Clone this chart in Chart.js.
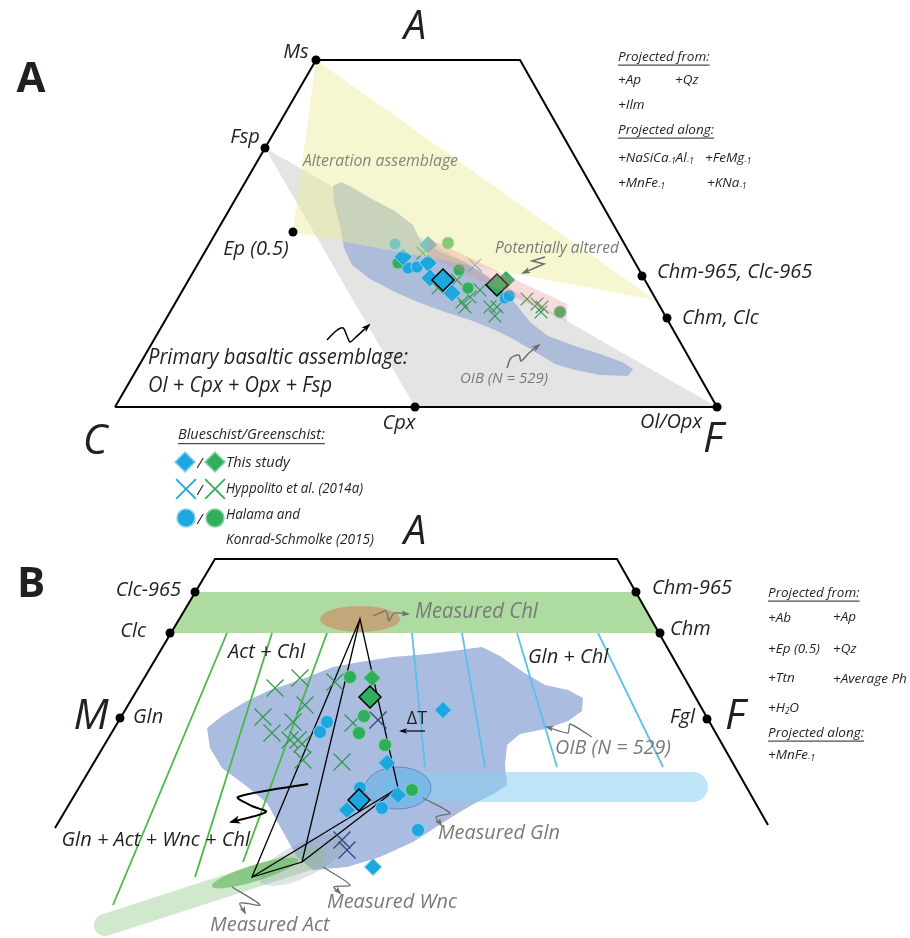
<!DOCTYPE html>
<html>
<head>
<meta charset="utf-8">
<script src="https://cdn.jsdelivr.net/npm/chart.js@4.4.1/dist/chart.umd.min.js"></script>
<style>
  html, body { margin: 0; padding: 0; background: #fff; }
  canvas { display: block; }
</style>
</head>
<body>
<canvas id="chart" width="910" height="938"></canvas>
<script>
// ---------- panel A : A-C-F projection ----------
const frameA = [[115,407],[316,60],[520,60],[717,407],[115,407]];
const phasesA = [[316,60],[265,148],[293,232],[415,407],[717,407],[642,276],[667,318]];
const primaryField = [[265,148],[717,407],[415,407]];
const alterationField = [[316,60],[655,300],[293,232]];
const alteredBand = [[428,238],[567,304],[567,322],[428,256]];
const oibFieldA = [[333,186],[341,182],[352,187],[368,197],[395,211],[413,225],[420,240],[440,252],[465,262],
  [485,275],[500,287],[515,303],[530,322],[548,336],[575,346],[600,354],[622,362],[633,369],[628,376],
  [600,375],[575,370],[555,364],[535,352],[515,340],[495,330],[470,320],[445,312],[420,303],[395,292],
  [370,279],[352,265],[344,248],[340,225],[334,203]];

const blueDiamondA = [[403,257],[428,263],[428,245],[430,278],[452,293]];
const blueDiamondA_study = [[443,280]];
const greenDiamondA = [[506,280]];
const greenDiamondA_study = [[497,285]];
const blueCircleA = [[395,244],[408,268],[417,267],[505,298],[509,296]];
const greenCircleA = [[398,263],[448,243],[459,270],[468,288],[560,312]];
const blueCrossA = [[475,265]];
const greenCrossA = [[423,253],[438,288],[457,280],[462,302],[470,297],[465,307],[480,290],[490,307],
  [497,307],[495,316],[527,299],[537,304],[542,307],[541,312]];

// ---------- panel B : A-M-F projection ----------
const frameB = [[55,828],[215,559],[617,559],[768,825]];
const phasesB = [[195,592],[170,633],[120,718],[636,592],[660,633],[707,719]];
const chlBand = [[195,592],[636,592],[660,633],[170,633]];
const oibFieldB = [[207,728],[222,716],[245,702],[270,690],[300,680],[333,667],[360,662],[393,657],[427,654],
  [460,650],[482,647],[500,656],[523,672],[545,685],[568,690],[583,698],[582,711],[568,721],[545,729],
  [520,734],[507,745],[505,765],[507,785],[495,793],[470,806],[447,820],[413,842],[380,857],[347,867],
  [313,870],[297,857],[282,830],[267,803],[245,785],[222,768],[210,748]];
const actChlTies = [[[227,633],[113,905]],[[272,633],[195,877]],[[327,633],[243,862]]];
const glnChlTies = [[[412,633],[425,767]],[[462,633],[485,767]],[[517,633],[557,767]],[[598,633],[663,767]]];
const glnTrend = [[398,787],[693,787]];
const actTrend = [[105,925],[315,857]];
const chlV = [360,619], glnV = [398,788], actV = [252,877], wncV = [302,862];

const greenCrossB = [[275,688],[300,678],[335,682],[305,705],[263,717],[293,722],[272,733],[290,740],
  [298,740],[302,744],[303,760],[342,762],[353,723]];
const navyCrossB = [[378,720],[342,840],[347,850]];
const greenCircleB = [[350,677],[364,716],[359,733],[385,745],[412,790]];
const greenDiamondB = [[372,678]];
const greenDiamondB_study = [[370,697]];
const blueCircleB = [[327,722],[320,732],[360,788],[382,808],[418,830]];
const blueDiamondB = [[443,710],[387,763],[398,795],[347,810],[373,867]];
const blueDiamondB_study = [[359,800]];

// ---------- legend ----------
const legendBlue = [[185,462]], legendGreen = [[215,462]];
const legendBlueX = [[186,489]], legendGreenX = [[215,489]];
const legendBlueO = [[186,518]], legendGreenO = [[215,518]];

const BLUE = '#1ea6df', BLUE_EDGE = '#86cff0', GREEN = '#2fae5c', GREEN_EDGE = '#8ad2a0';
const XGREEN = '#2f9a4e', GREY = '#7a7a7a';

const toPts = a => a.map(([x, y]) => ({x, y}));
const layers = [];
function area(pts, color) {
  layers.push({data: toPts([...pts, pts[0]]), showLine: true, fill: 'shape', backgroundColor: color,
    borderColor: 'rgba(0,0,0,0)', borderWidth: 0, pointRadius: 0});
}
function path(pts, color, width, extra) {
  layers.push(Object.assign({data: toPts(pts), showLine: true, fill: false, borderColor: color,
    borderWidth: width, pointRadius: 0}, extra || {}));
}
function marks(pts, style, r, fillC, edgeC, bw) {
  layers.push({data: toPts(pts), showLine: false, fill: false, pointStyle: style, pointRadius: r,
    pointBackgroundColor: fillC, pointBorderColor: edgeC, pointBorderWidth: bw});
}
function ellipse(c, rx, ry, rot, fillC, edgeC) {
  layers.push({data: toPts([c]), showLine: false, fill: false, pointRadius: 0,
    ellipse: {rx, ry, rot, fillC, edgeC}});
}
function arrow(pts, color, width, tension) {
  path(pts, color, width, {tension: tension, head: true});
}

// panel A layers
area(primaryField, '#e4e4e4');
area(oibFieldA, '#adbdd9');
marks(greenCrossA, 'crossRot', 9, XGREEN, XGREEN, 1.2);
marks(blueCrossA, 'crossRot', 9, '#3fb0e6', '#3fb0e6', 1.2);
marks(blueCircleA, 'circle', 6, BLUE, BLUE_EDGE, 1);
marks(greenCircleA, 'circle', 6, GREEN, GREEN_EDGE, 1);
marks(blueDiamondA, 'rectRot', 9, BLUE, BLUE_EDGE, 1);
marks(greenDiamondA, 'rectRot', 9, GREEN, GREEN_EDGE, 1);
marks(blueDiamondA_study, 'rectRot', 11, BLUE, '#000', 1.5);
marks(greenDiamondA_study, 'rectRot', 11, GREEN, '#000', 1.5);
area(alterationField, 'rgba(235,235,150,0.45)');
area(alteredBand, 'rgba(225,140,140,0.3)');
path(frameA, '#000', 2);
marks(phasesA, 'circle', 4.5, '#000', '#000', 0);

// panel B layers
area(chlBand, '#aedba0');
ellipse(chlV, 40, 13, 0, 'rgba(200,150,110,0.75)', null);
area(oibFieldB, '#aabcdf');
actChlTies.forEach(t => path(t, '#4cb748', 1.8));
glnChlTies.forEach(t => path(t, '#5cc0ea', 1.8));
path(actTrend, 'rgba(150,205,140,0.45)', 22, {borderCapStyle: 'round'});
ellipse([303,860], 48, 17, -0.45, 'rgba(140,155,165,0.28)', null);
ellipse([255,873], 45, 8, -0.3, 'rgba(100,185,95,0.65)', null);
path(glnTrend, 'rgba(135,205,240,0.55)', 30, {borderCapStyle: 'round'});
ellipse(glnV, 33, 21, 0, 'rgba(95,175,230,0.55)', 'rgba(100,120,185,0.8)');
path([chlV, actV, wncV, chlV, glnV, wncV], '#000', 1.3);
path([actV, glnV], '#000', 1.3);
marks(greenCrossB, 'crossRot', 12, XGREEN, XGREEN, 1.2);
marks(navyCrossB, 'crossRot', 12, '#34407a', '#34407a', 1.2);
marks(greenCircleB, 'circle', 6.5, GREEN, GREEN_EDGE, 1);
marks(blueCircleB, 'circle', 6.5, BLUE, BLUE_EDGE, 1);
marks(greenDiamondB, 'rectRot', 8.5, GREEN, GREEN_EDGE, 1);
marks(blueDiamondB, 'rectRot', 8.5, BLUE, BLUE_EDGE, 1);
marks(greenDiamondB_study, 'rectRot', 11, GREEN, '#000', 1.5);
marks(blueDiamondB_study, 'rectRot', 11, BLUE, '#000', 1.5);
path(frameB, '#000', 2);
marks(phasesB, 'circle', 4.5, '#000', '#000', 0);

// legend markers
marks(legendBlue, 'rectRot', 10, BLUE, BLUE_EDGE, 1.5);
marks(legendGreen, 'rectRot', 10, GREEN, GREEN_EDGE, 1.5);
marks(legendBlueX, 'crossRot', 14, BLUE, BLUE, 1.8);
marks(legendGreenX, 'crossRot', 14, GREEN, GREEN, 1.8);
marks(legendBlueO, 'circle', 9, BLUE, BLUE_EDGE, 1.5);
marks(legendGreenO, 'circle', 9, GREEN, GREEN_EDGE, 1.5);

// annotation arrows
arrow([[327,340],[336,331],[343,328],[347,336],[350,342],[355,338],[369,325]], '#000', 1.5, 0.3);
arrow([[545,257],[532,261],[544,264],[523,273]], '#6e6e6e', 1.5, 0);
arrow([[507,368],[511,358],[519,355],[521,361],[529,353],[539,345]], '#6e6e6e', 1.5, 0.3);
arrow([[308,784],[238,797],[252,806],[266,812],[231,822]], '#000', 2, 0.3);
arrow([[373,616],[386,611],[389,621],[394,613],[408,614]], '#6e6e6e', 1.3, 0.2);
arrow([[592,737],[570,724],[568,733],[547,727]], '#6e6e6e', 1.3, 0.2);
arrow([[423,798],[450,813],[436,817],[441,825]], '#6e6e6e', 1.3, 0.3);
arrow([[323,867],[350,885],[334,887],[340,893]], '#6e6e6e', 1.3, 0.3);
arrow([[232,887],[260,905],[240,903],[245,913]], '#6e6e6e', 1.3, 0.3);
arrow([[425,731],[401,731]], '#000', 1.2, 0);

const FAMILY = '"Open Sans", "Noto Sans", sans-serif';
// text labels: x, y, text, size, options
const labels = [
  // panel A
  {x:31, y:80, t:'A', s:42, bold:true, it:false, align:'center'},
  {x:415, y:28, t:'A', s:40, align:'center'},
  {x:296, y:52, t:'Ms', s:20, align:'center'},
  {x:245, y:137, t:'Fsp', s:20, align:'center'},
  {x:256, y:249, t:'Ep (0.5)', s:20, align:'center', w:66},
  {x:303, y:161, t:'Alteration assemblage', s:17, c:'#85857a', w:155},
  {x:148, y:358, t:'Primary basaltic assemblage:', s:21, w:260},
  {x:148, y:386, t:'Ol + Cpx + Opx + Fsp', s:21, w:184},
  {x:399, y:423, t:'Cpx', s:20, align:'center'},
  {x:95, y:442, t:'C', s:42, align:'center'},
  {x:671, y:422, t:'Ol/Opx', s:20, align:'center', w:64},
  {x:713, y:440, t:'F', s:42, align:'center'},
  {x:657, y:272, t:'Chm-965, Clc-965', s:20, w:156},
  {x:682, y:318, t:'Chm, Clc', s:20, w:78},
  {x:495, y:248, t:'Potentially altered', s:17, c:GREY, w:124},
  {x:460, y:379, t:'OIB (N = 529)', s:15, c:GREY, w:89},
  {x:618, y:57, t:'Projected from:', s:13.5, under:true, w:92},
  {x:618, y:80, t:'+Ap', s:13.5},
  {x:675, y:80, t:'+Qz', s:13.5},
  {x:618, y:105, t:'+Ilm', s:13.5},
  {x:618, y:130, t:'Projected along:', s:13.5, under:true, w:98},
  {x:618, y:158, t:[['+NaSiCa'],['-1',1],['Al'],['-1',1]], s:13.5},
  {x:705, y:158, t:[['+FeMg'],['-1',1]], s:13.5},
  {x:618, y:183, t:[['+MnFe'],['-1',1]], s:13.5},
  {x:707, y:183, t:[['+KNa'],['-1',1]], s:13.5},
  // legend
  {x:178, y:435, t:'Blueschist/Greenschist:', s:14.5, under:true, w:157},
  {x:200, y:464, t:'/', s:15, align:'center'},
  {x:200, y:491, t:'/', s:15, align:'center'},
  {x:200, y:520, t:'/', s:15, align:'center'},
  {x:226, y:463, t:'This study', s:14.5, w:66},
  {x:226, y:489, t:'Hyppolito et al. (2014a)', s:14.5, w:137},
  {x:226, y:515, t:'Halama and', s:14.5, w:74},
  {x:226, y:540, t:'Konrad-Schmolke (2015)', s:14.5, w:148},
  // panel B
  {x:31, y:585, t:'B', s:42, bold:true, it:false, align:'center'},
  {x:415, y:533, t:'A', s:40, align:'center'},
  {x:181, y:590, t:'Clc-965', s:20, align:'right', w:66},
  {x:146, y:631, t:'Clc', s:20, align:'right'},
  {x:91, y:717, t:'M', s:42, align:'center'},
  {x:133, y:717, t:'Gln', s:20},
  {x:652, y:588, t:'Chm-965', s:20, w:81},
  {x:670, y:629, t:'Chm', s:20},
  {x:670, y:717, t:'Fgl', s:20},
  {x:735, y:717, t:'F', s:42, align:'center'},
  {x:228, y:652, t:'Act + Chl', s:20, w:81},
  {x:528, y:657, t:'Gln + Chl', s:20, w:81},
  {x:415, y:612, t:'Measured Chl', s:22, c:GREY, w:123},
  {x:555, y:748, t:'OIB (N = 529)', s:20, c:GREY, w:116},
  {x:417, y:719, t:'\u0394T', s:18, it:false, align:'center'},
  {x:250, y:840, t:'Gln + Act + Wnc + Chl', s:20, align:'right', w:192},
  {x:438, y:833, t:'Measured Gln', s:20, c:GREY, w:122},
  {x:327, y:902, t:'Measured Wnc', s:20, c:GREY, w:130},
  {x:210, y:925, t:'Measured Act', s:20, c:GREY, w:120},
  {x:768, y:593, t:'Projected from:', s:13.5, under:true, w:92},
  {x:768, y:618, t:'+Ab', s:13.5},
  {x:833, y:617, t:'+Ap', s:13.5},
  {x:768, y:649, t:'+Ep (0.5)', s:13.5, w:53},
  {x:833, y:649, t:'+Qz', s:13.5},
  {x:768, y:678, t:'+Ttn', s:13.5},
  {x:833, y:679, t:'+Average Ph', s:13.5, w:77},
  {x:768, y:708, t:[['+H'],['2',1],['O']], s:13.5},
  {x:768, y:733, t:'Projected along:', s:13.5, under:true, w:97},
  {x:768, y:755, t:[['+MnFe'],['-1',1]], s:13.5}
];

function fontOf(l, size) {
  return (l.it === false ? '' : 'italic ') + (l.bold ? '700 ' : '400 ') + size + 'px ' + FAMILY;
}

const diagramPlugin = {
  id: 'diagram',
  afterDatasetDraw(chart, args) {
    const ds = chart.data.datasets[args.index];
    if (!ds.ellipse) return;
    const p = args.meta.data[0];
    const xs = chart.scales.x, ys = chart.scales.y;
    const e = ds.ellipse;
    const rx = Math.abs(xs.getPixelForValue(ds.data[0].x + e.rx) - p.x);
    const ry = Math.abs(ys.getPixelForValue(ds.data[0].y + e.ry) - p.y);
    const ctx = chart.ctx;
    ctx.save();
    ctx.beginPath();
    ctx.ellipse(p.x, p.y, rx, ry, e.rot, 0, Math.PI * 2);
    ctx.fillStyle = e.fillC;
    ctx.fill();
    if (e.edgeC) { ctx.strokeStyle = e.edgeC; ctx.lineWidth = 1; ctx.stroke(); }
    ctx.restore();
  },
  afterDatasetsDraw(chart) {
    const ctx = chart.ctx;
    const xs = chart.scales.x, ys = chart.scales.y;
    // arrow heads
    chart.data.datasets.forEach((ds, i) => {
      if (!ds.head) return;
      const pts = chart.getDatasetMeta(i).data;
      const a = pts[pts.length - 2], b = pts[pts.length - 1];
      const ang = Math.atan2(b.y - a.y, b.x - a.x);
      const len = ds.borderWidth * 4 + 2;
      ctx.save();
      ctx.fillStyle = ds.borderColor;
      ctx.beginPath();
      ctx.moveTo(b.x + Math.cos(ang) * 2, b.y + Math.sin(ang) * 2);
      ctx.lineTo(b.x - len * Math.cos(ang - 0.42), b.y - len * Math.sin(ang - 0.42));
      ctx.lineTo(b.x - len * 0.6 * Math.cos(ang), b.y - len * 0.6 * Math.sin(ang));
      ctx.lineTo(b.x - len * Math.cos(ang + 0.42), b.y - len * Math.sin(ang + 0.42));
      ctx.closePath();
      ctx.fill();
      ctx.restore();
    });
    // labels
    ctx.save();
    ctx.textBaseline = 'middle';
    labels.forEach(l => {
      const x = xs.getPixelForValue(l.x), y = ys.getPixelForValue(l.y);
      ctx.fillStyle = l.c || '#231f20';
      ctx.strokeStyle = l.c || '#231f20';
      const segs = typeof l.t === 'string' ? [[l.t]] : l.t;
      let width = 0;
      segs.forEach(sg => { ctx.font = fontOf(l, sg[1] ? l.s * 0.6 : l.s); width += ctx.measureText(sg[0]).width; });
      let scale = 1;
      if (l.w && width > l.w) scale = l.w / width;
      const total = width * scale;
      let x0 = x;
      if (l.align === 'center') x0 = x - total / 2;
      else if (l.align === 'right') x0 = x - total;
      ctx.save();
      ctx.translate(x0, y);
      ctx.scale(scale, 1);
      let cx = 0;
      segs.forEach(sg => {
        ctx.font = fontOf(l, sg[1] ? l.s * 0.6 : l.s);
        ctx.fillText(sg[0], cx, sg[1] ? l.s * 0.3 : 0);
        cx += ctx.measureText(sg[0]).width;
      });
      ctx.restore();
      if (l.under) {
        ctx.lineWidth = 1;
        ctx.beginPath();
        ctx.moveTo(x0, y + l.s * 0.6);
        ctx.lineTo(x0 + total, y + l.s * 0.6);
        ctx.stroke();
      }
    });
    ctx.restore();
  }
};

new Chart(document.getElementById('chart'), {
  type: 'line',
  data: {
    datasets: layers.map((d, i) => Object.assign({order: layers.length - i, clip: false, tension: 0}, d))
  },
  options: {
    responsive: false,
    devicePixelRatio: 1,
    animation: false,
    events: [],
    layout: { padding: 0, autoPadding: false },
    plugins: { legend: { display: false }, tooltip: { enabled: false } },
    scales: {
      x: { type: 'linear', min: 0, max: 910, display: false },
      y: { type: 'linear', min: 0, max: 938, reverse: true, display: false }
    }
  },
  plugins: [diagramPlugin]
});
</script>
</body>
</html>
